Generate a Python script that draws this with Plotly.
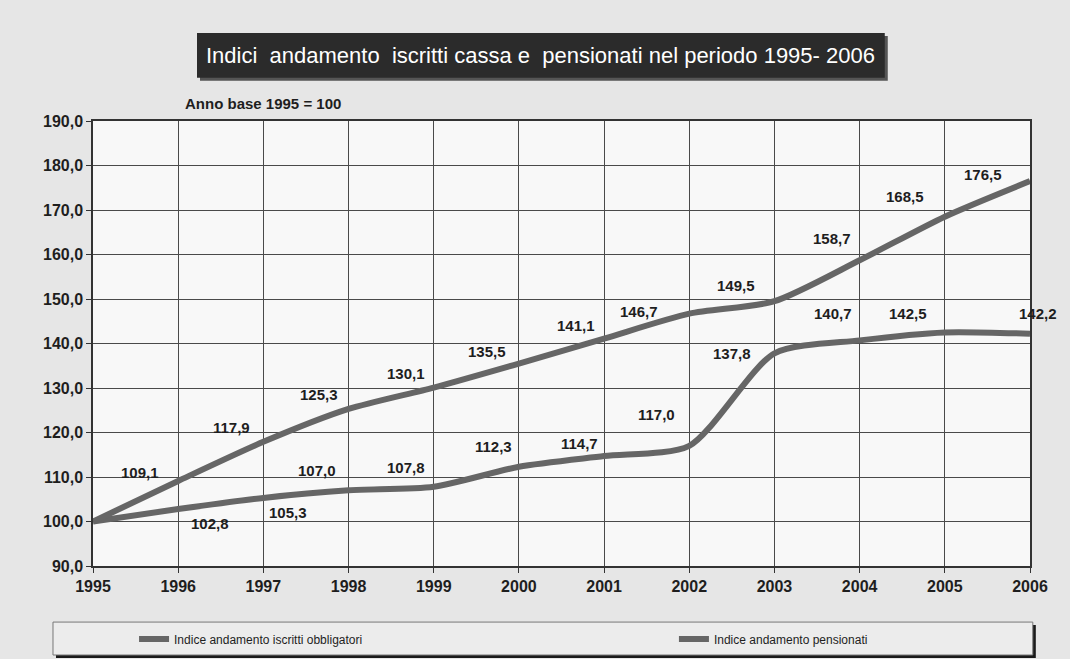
import plotly.graph_objects as go

# data
anni = [1995, 1996, 1997, 1998, 1999, 2000, 2001, 2002, 2003, 2004, 2005, 2006]
pensionati = [100.0, 109.1, 117.9, 125.3, 130.1, 135.5, 141.1, 146.7, 149.5, 158.7, 168.5, 176.5]
iscritti = [100.0, 102.8, 105.3, 107.0, 107.8, 112.3, 114.7, 117.0, 137.8, 140.7, 142.5, 142.2]
y_ticks = [90, 100, 110, 120, 130, 140, 150, 160, 170, 180, 190]

titolo = "Indici  andamento  iscritti cassa e  pensionati nel periodo 1995- 2006"
sottotitolo = "Anno base 1995 = 100"
nome_iscritti = "Indice andamento iscritti obbligatori"
nome_pensionati = "Indice andamento pensionati"

# label offsets in px (dx, dy with dy upward), first point has no label
off_pens = [None, (-38, 9), (-32, 14), (-30, 14), (-28, 14), (-32, 12), (-28, 13),
            (-50, 2), (-38, 16), (-28, 22), (-40, 20), (-47, 7)]
off_iscr = [None, (32, -14), (25, -15), (-32, 20), (-28, 19), (-25, 20), (-25, 13),
            (-33, 31), (-42, 0), (-27, 27), (-37, 19), (8, 20)]

LINE = "#666666"
INK = "#1e1e1e"

fig = go.Figure()
fig.add_trace(go.Scatter(x=anni, y=iscritti, name=nome_iscritti, mode="lines", legend="legend",
                         line=dict(color=LINE, width=6, shape="spline", smoothing=0.7)))
fig.add_trace(go.Scatter(x=anni, y=pensionati, name=nome_pensionati, mode="lines", legend="legend2",
                         line=dict(color=LINE, width=6, shape="spline", smoothing=0.7)))

def fmt(v):
    return f"{v:.1f}".replace(".", ",")

annots = []
for serie, offs in ((pensionati, off_pens), (iscritti, off_iscr)):
    for a, v, o in zip(anni, serie, offs):
        if o is None:
            continue
        annots.append(dict(x=a, y=v, xref="x", yref="y", text=fmt(v), showarrow=False,
                           xshift=o[0], yshift=o[1], xanchor="center", yanchor="middle",
                           font=dict(family="Arial", size=15, color=INK, weight="bold")))

# title + subtitle
annots.append(dict(x=0.478, y=1.148, xref="paper", yref="paper", text=titolo.replace("  ", "\u00a0 "),
                   showarrow=False, xanchor="center", yanchor="middle",
                   font=dict(family="Arial", size=22, color="white")))
annots.append(dict(x=0.181, y=1.04, xref="paper", yref="paper", text=sottotitolo, showarrow=False,
                   xanchor="center", yanchor="middle",
                   font=dict(family="Arial", size=15, color=INK, weight="bold")))

px_x = 1 / 937
px_y = 1 / 445
shapes = [
    # title box with shadow
    dict(type="rect", xref="paper", yref="paper", x0=0.111 + 3 * px_x, x1=0.845 + 3 * px_x,
         y0=1.097 - 3 * px_y, y1=1.198 - 3 * px_y, fillcolor="#555", line_width=0, layer="below"),
    dict(type="rect", xref="paper", yref="paper", x0=0.111, x1=0.845, y0=1.097, y1=1.198,
         fillcolor="#2b2b2b", line_width=0, layer="below"),
    # legend box with shadow
    dict(type="rect", xref="paper", yref="paper", x0=-0.0427 + 3 * px_x, x1=1.003 + 3 * px_x,
         y0=-0.2 - 3 * px_y, y1=-0.126 - 3 * px_y, fillcolor="#1a1a1a", line_width=0, layer="below"),
    dict(type="rect", xref="paper", yref="paper", x0=-0.0427, x1=1.003, y0=-0.2, y1=-0.126,
         fillcolor="#ececec", line=dict(color="#777", width=1), layer="below"),
]

leg_font = dict(family="Arial", size=12, color=INK)
fig.update_layout(
    width=1070, height=659,
    margin=dict(l=93, r=40, t=121, b=93, autoexpand=False),
    paper_bgcolor="#e6e6e6",
    plot_bgcolor="#f8f8f8",
    font=dict(family="Arial", color=INK),
    showlegend=True,
    legend=dict(orientation="h", x=0.0438, y=-0.164, xanchor="left", yanchor="middle",
                bgcolor="rgba(0,0,0,0)", font=leg_font),
    legend2=dict(orientation="h", x=0.620, y=-0.164, xanchor="left", yanchor="middle",
                 bgcolor="rgba(0,0,0,0)", font=leg_font),
    annotations=annots,
    shapes=shapes,
)
fig.update_xaxes(range=[1995, 2006], tickvals=anni, ticktext=[str(a) for a in anni],
                 showgrid=True, gridcolor="#4a4a4a", gridwidth=1,
                 showline=True, linecolor="#333", linewidth=1.5, mirror=True,
                 ticks="outside", ticklen=5, tickcolor="#333", zeroline=False, automargin=False,
                 tickfont=dict(family="Arial", size=16, color=INK, weight="bold"))
fig.update_yaxes(range=[90, 190], tickvals=y_ticks, ticktext=[fmt(v) for v in y_ticks],
                 showgrid=True, gridcolor="#4a4a4a", gridwidth=1,
                 showline=True, linecolor="#333", linewidth=1.5, mirror=True,
                 ticks="outside", ticklen=5, tickcolor="#333", zeroline=False, automargin=False,
                 tickfont=dict(family="Arial", size=16, color=INK, weight="bold"))

fig.write_html("out.html", config={"displayModeBar": False},
               post_script="document.body.style.margin='0';")
